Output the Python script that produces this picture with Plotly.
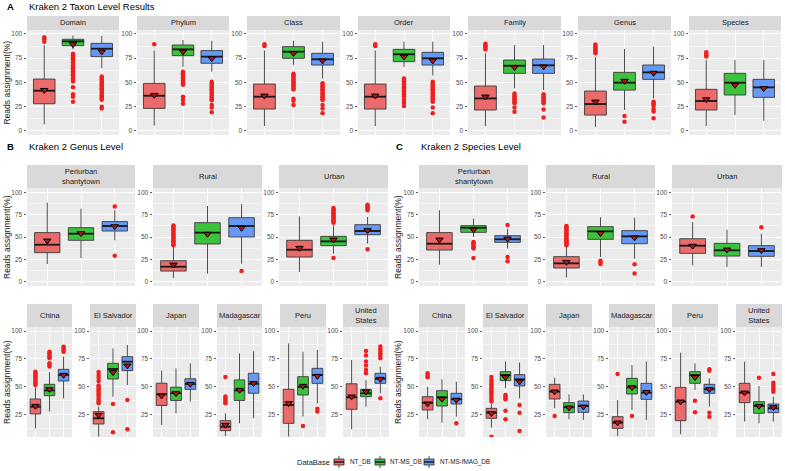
import plotly.graph_objects as go

W, H = 785, 471
DBS = ["NT_DB", "NT-MS_DB", "NT-MS-fMAG_DB"]
FILLS = ["#EB6A6A", "#3CC23C", "#6699F5"]

# ---------------- Section A: taxon levels ----------------
A_panels = ["Domain", "Phylum", "Class", "Order", "Family", "Genus", "Species"]
A_q1 = [[27.9, 87.9, 76.6], [23.1, 77.6, 69.7], [22.4, 74.8, 67.9], [22.4, 71.4, 67.9],
        [21.4, 59.3, 59.3], [16.2, 42.0, 53.1], [21.4, 36.9, 34.5]]
A_med = [[41.4, 92.4, 84.8], [36.2, 84.1, 76.6], [35.2, 81.7, 73.8], [35.2, 79.0, 74.8],
         [33.4, 67.2, 67.6], [27.6, 49.7, 60.3], [30.7, 49.7, 44.8]]
A_q3 = [[53.4, 94.5, 90.3], [49.0, 88.6, 82.8], [48.3, 86.9, 80.0], [48.3, 84.1, 81.0],
        [46.2, 73.1, 74.1], [41.0, 60.3, 67.9], [42.8, 59.3, 53.1]]
A_lo = [[6.6, 84.0, 64.5], [5.2, 66.0, 61.0], [4.8, 68.0, 54.0], [4.8, 66.0, 57.0],
        [4.8, 43.8, 42.0], [4.1, 21.4, 33.4], [4.8, 16.2, 10.3]]
A_hi = [[88.6, 98.6, 98.0], [83.0, 93.8, 93.0], [83.0, 93.0, 92.0], [83.0, 92.0, 92.0],
        [80.0, 88.6, 88.6], [76.5, 84.5, 86.9], [73.0, 73.0, 73.0]]
A_mean = [[42.0, 89.3, 81.7], [36.9, 81.7, 74.8], [36.2, 80.0, 72.4], [36.2, 76.5, 72.4],
          [35.2, 65.5, 66.2], [30.0, 51.4, 59.7], [32.4, 47.2, 43.8]]
A_out = [
    [[92.0, 94.5, 96.5],
     [79.5, 78.0, 76.5, 75.0, 73.6, 72.0, 70.5, 69.0, 67.5, 66.0, 64.6, 63.0, 61.5, 60.0,
      58.5, 57.0, 55.6, 54.0, 52.5, 51.0, 45.0, 37.6, 35.0, 30.0],
     [56.0, 54.5, 53.0, 51.5, 50.0, 48.6, 47.0, 45.5, 44.0, 42.5, 41.0, 39.5, 38.0, 36.5,
      35.0, 33.5, 32.0, 24.8, 23.0]],
    [[89.3],
     [61.0, 59.5, 58.0, 56.5, 55.0, 53.6, 52.0, 50.5, 49.0, 47.5, 35.0, 31.7, 28.0],
     [50.7, 49.0, 47.5, 46.0, 44.5, 43.0, 41.5, 40.0, 38.5, 37.0, 35.5, 34.0, 32.5, 31.5,
      26.6, 24.0, 19.0]],
    [[87.5, 89.5],
     [59.0, 57.5, 56.0, 54.5, 53.0, 51.5, 50.0, 48.5, 47.0, 45.5, 44.0, 42.5, 33.0, 31.0, 26.6],
     [49.0, 47.5, 46.0, 44.5, 43.0, 41.5, 40.0, 38.5, 37.0, 35.5, 34.0, 32.5, 31.7, 26.6,
      23.0, 18.0]],
    [[87.5, 89.5],
     [54.0, 52.5, 51.0, 49.5, 48.0, 46.5, 45.0, 43.5, 42.0, 40.5, 39.0, 37.5, 36.0, 35.0,
      31.7, 29.0, 25.5],
     [50.7, 49.0, 47.5, 46.0, 44.5, 43.0, 41.5, 40.0, 38.5, 37.0, 35.5, 34.0, 32.5, 31.0,
      30.0, 24.0, 18.0]],
    [[84.0, 85.5, 87.0, 88.5, 90.0],
     [38.6, 37.0, 35.5, 34.0, 32.5, 31.0, 29.5, 28.3, 24.0, 19.7],
     [37.6, 36.0, 34.5, 33.0, 31.5, 30.0, 28.3, 22.0, 13.8]],
    [[80.0, 81.5, 83.0, 84.5, 86.0, 87.5, 89.0],
     [15.2, 9.3],
     [30.0, 28.5, 27.0, 25.5, 22.0, 20.0, 12.8]],
    [[76.6, 78.0, 79.5, 81.0], [], []],
]

# ---------------- Section B: genus level ----------------
B_site_panels = ["Periurban<br>shantytown", "Rural", "Urban"]
B_site_q1 = [[32.5, 46.3, 56.7], [11.9, 42.2, 50.0], [27.6, 40.3, 52.6]]
B_site_med = [[41.4, 53.7, 62.3], [16.8, 54.9, 62.3], [35.8, 45.1, 56.7]]
B_site_q3 = [[54.9, 60.4, 67.2], [23.5, 66.0, 71.6], [46.3, 50.7, 63.8]]
B_site_lo = [[19.8, 26.5, 46.3], [4.1, 9.0, 20.1], [10.8, 31.3, 42.5]]
B_site_hi = [[88.4, 81.7, 80.0], [38.8, 84.7, 86.6], [73.1, 63.0, 72.4]]
B_site_mean = [[45.9, 54.1, 61.9], [19.0, 53.4, 60.1], [37.7, 47.0, 57.5]]
B_site_out = [
    [[], [], [84.0, 29.1]],
    [[40.7, 42.0, 43.5, 45.0, 46.5, 48.0, 49.5, 51.0, 52.5, 54.0, 55.5, 57.0, 58.5, 60.0,
      61.5, 63.0], [], [11.9]],
    [[], [66.0, 67.5, 69.0, 70.5, 72.0, 73.5, 75.0, 76.5, 78.0, 79.5, 81.0, 82.5, 26.5],
     [80.0, 81.5, 83.0, 84.5, 86.0, 36.2]],
]

B_ctry_panels = ["China", "El Salvador", "Japan", "Madagascar", "Peru", "United<br>States"]
B_ctry_q1 = [[25.3, 41.8, 55.0], [16.3, 56.8, 64.3], [33.0, 37.5, 47.5],
             [10.3, 37.5, 44.0], [16.9, 42.4, 52.9], [29.5, 40.9, 52.9]]
B_ctry_med = [[31.9, 46.5, 60.4], [21.4, 65.8, 72.4], [43.0, 44.0, 52.3],
              [13.9, 46.5, 52.5], [33.4, 49.8, 60.4], [40.3, 43.9, 57.0]]
B_ctry_q3 = [[38.8, 52.0, 65.5], [27.4, 70.9, 76.9], [53.0, 49.5, 57.0],
             [19.3, 56.0, 62.0], [47.5, 58.9, 66.4], [52.5, 47.5, 61.9]]
B_ctry_lo = [[12.4, 27.4, 39.4], [4.9, 40.9, 51.4], [15.4, 26.0, 36.4],
             [5.5, 16.9, 21.4], [4.9, 22.9, 34.9], [11.5, 31.9, 43.9]]
B_ctry_hi = [[49.3, 63.0, 77.0], [31.9, 84.4, 87.4], [64.5, 66.4, 70.9],
             [25.9, 79.9, 81.9], [88.9, 81.4, 82.9], [73.9, 55.9, 68.0]]
B_ctry_mean = [[32.5, 47.5, 60.4], [24.4, 62.8, 68.8], [41.8, 43.9, 52.3],
               [15.4, 46.9, 52.9], [34.9, 50.5, 59.5], [40.9, 45.4, 56.8]]
B_ctry_out = [
    [[51.4, 53.0, 54.5, 56.0, 57.5, 59.0, 60.5, 62.0, 63.4],
     [68.0, 69.5, 71.0, 75.5, 77.0, 78.5, 80.0, 81.4],
     [81.4, 83.0, 84.5, 85.9]],
    [[34.9, 36.5, 38.0, 40.0, 42.0, 43.5, 45.0, 46.5, 48.0, 49.5, 51.0, 55.0, 58.0, 60.5, 63.0],
     [34.3, 8.8],
     [37.9, 11.5]],
    [[], [], []],
    [[35.0, 36.5, 38.0, 39.5, 41.0, 58.5], [], []],
    [[], [14.5], [30.0, 27.5]],
    [[], [62.0, 65.0, 69.0, 72.5, 78.0, 82.0], [75.5, 78.0, 80.0, 82.0, 84.0, 86.0, 39.5]],
]

# ---------------- Section C: species level ----------------
C_site_panels = ["Periurban<br>shantytown", "Rural", "Urban"]
C_site_q1 = [[35.4, 55.2, 44.0], [15.3, 47.4, 42.5], [31.7, 28.7, 28.4]]
C_site_med = [[42.5, 60.4, 47.4], [20.5, 56.3, 50.7], [40.3, 35.1, 34.3]]
C_site_q3 = [[54.9, 62.7, 51.5], [28.0, 61.6, 57.1], [48.1, 42.9, 40.3]]
C_site_lo = [[19.0, 50.0, 37.0], [4.5, 27.6, 25.7], [18.3, 16.4, 16.4]]
C_site_hi = [[79.9, 70.5, 59.3], [38.8, 72.0, 71.6], [66.8, 58.2, 53.7]]
C_site_mean = [[47.0, 58.2, 48.1], [22.0, 54.1, 49.3], [40.0, 35.8, 35.1]]
C_site_out = [
    [[], [44.4, 43.0, 41.5, 40.0, 38.5, 37.0, 26.5], [63.4, 27.6, 22.8]],
    [[40.7, 42.0, 43.5, 45.0, 46.5, 48.0, 49.5, 51.0, 52.5, 54.0, 55.5, 57.0, 58.5, 60.0,
      61.5, 62.3], [23.5, 21.5, 19.8], [19.4, 9.3]],
    [[72.8], [], [60.8]],
]

C_ctry_panels = ["China", "El Salvador", "Japan", "Madagascar", "Peru", "United<br>States"]
C_ctry_q1 = [[28.9, 32.5, 34.3], [21.4, 55.3, 50.5], [38.8, 26.5, 26.8],
             [12.4, 43.3, 38.5], [19.3, 52.9, 43.9], [35.5, 25.9, 26.5]]
C_ctry_med = [[35.5, 40.3, 38.5], [26.5, 60.4, 56.5], [45.4, 31.3, 32.5],
              [17.5, 49.3, 44.5], [36.4, 60.4, 47.5], [44.5, 32.5, 30.4]]
C_ctry_q3 = [[40.9, 46.3, 43.9], [30.4, 63.4, 60.7], [52.0, 35.5, 37.0],
             [22.9, 57.4, 52.9], [49.3, 63.4, 52.0], [52.9, 36.4, 34.3]]
C_ctry_lo = [[20.5, 17.5, 22.9], [13.0, 48.4, 39.4], [30.4, 20.5, 19.9],
             [5.5, 28.9, 19.9], [7.0, 46.9, 31.9], [18.4, 16.9, 18.4]]
C_ctry_hi = [[49.9, 56.5, 54.4], [34.3, 72.4, 71.8], [58.0, 43.0, 43.0],
             [37.9, 69.4, 72.4], [80.5, 70.9, 57.4], [72.4, 50.5, 40.9]]
C_ctry_mean = [[34.5, 38.8, 38.0], [25.9, 58.3, 54.4], [45.4, 31.0, 31.9],
               [17.5, 49.3, 45.0], [36.4, 58.3, 47.5], [44.5, 32.5, 31.3]]
C_ctry_out = [
    [[58.3, 60.0, 61.9], [], [16.9]],
    [[36.5, 38.0, 40.0, 42.0, 44.0, 45.5, 47.0, 48.5, 50.0, 52.0, 54.0, 56.0, 58.5, 4.9],
     [42.4, 41.0, 39.7, 38.5, 28.3, 20.5],
     [33.4, 26.5, 10.0]],
    [[23.5], [], []],
    [[61.3], [23.5], []],
    [[], [37.3, 26.8], [65.5, 64.3, 26.5, 22.9]],
    [[], [58.0], [61.3, 53.5, 51.5, 49.5, 47.5, 45.4]],
]

# ---------------- Layout geometry (pixels) ----------------
A_x = [(27, 119), (137, 229), (247, 340), (358, 450), (468, 561), (578, 671), (689, 781)]
SITE_B_x = [(27, 135), (153, 262), (279, 388)]
SITE_C_x = [(419, 528), (546, 655), (672, 782)]
CTRY_B_x = [(27, 72), (90, 136), (153, 199), (217, 262), (280, 326), (343, 389)]
CTRY_C_x = [(419, 465), (483, 528), (546, 592), (609, 655), (672, 718), (736, 782)]
LEG_KEY_x = [(334, 344), (375, 385), (424, 434)]
LEG_TXT_x = [349, 389, 439]

FONT = "Liberation Sans, Arial, sans-serif"
fig = go.Figure()
shapes, annotations = [], []
layout_axes = {}
counter = [0]
BOX_W = 0.75
LINE_C = "#3A3A3A"


def fx(x):
    return x / W


def fy(y):
    return 1 - y / H


def add_panel(label, q1, med, q3, lo, hi, mean, outl, xs, strip_top, top, bottom, yrange):
    counter[0] += 1
    i = counter[0]
    xa = "x" if i == 1 else f"x{i}"
    ya = "y" if i == 1 else f"y{i}"
    x0, x1 = xs
    layout_axes["xaxis" if i == 1 else f"xaxis{i}"] = dict(
        domain=[fx(x0), fx(x1)], range=[0.4, 3.6], anchor=ya, tickvals=[1, 2, 3],
        showticklabels=False, ticks="", showgrid=True, gridcolor="white", gridwidth=1,
        zeroline=False, showline=False, fixedrange=True, automargin=False)
    layout_axes["yaxis" if i == 1 else f"yaxis{i}"] = dict(
        domain=[fy(bottom), fy(top)], range=yrange, anchor=xa, tick0=0, dtick=25,
        ticks="outside", ticklen=2.5, tickwidth=0.8, tickcolor="#333333",
        tickfont=dict(size=6.5, color="#4D4D4D", family=FONT),
        showgrid=True, gridcolor="white", gridwidth=1, zeroline=False, showline=False,
        minor=dict(dtick=12.5, showgrid=True, gridcolor="white", gridwidth=0.5),
        fixedrange=True, automargin=False)
    shapes.append(dict(type="rect", xref="paper", yref="paper", x0=fx(x0), x1=fx(x1),
                       y0=fy(top), y1=fy(strip_top), fillcolor="#D9D9D9", line=dict(width=0),
                       layer="below"))
    annotations.append(dict(xref="paper", yref="paper", x=fx((x0 + x1) / 2),
                            y=fy((strip_top + top) / 2), text=label, showarrow=False,
                            font=dict(size=7.5, color="#1A1A1A", family=FONT),
                            xanchor="center", yanchor="middle"))
    med_x, med_y = [], []
    for k in range(3):
        pos = k + 1
        fig.add_trace(go.Box(
            x=[pos], q1=[q1[k]], median=[med[k]], q3=[q3[k]],
            lowerfence=[lo[k]], upperfence=[hi[k]], width=BOX_W,
            fillcolor=FILLS[k], line=dict(color=LINE_C, width=0.9),
            boxpoints=False, name=DBS[k], showlegend=False,
            whiskerwidth=0, xaxis=xa, yaxis=ya, hoverinfo="skip"))
        med_x += [pos - BOX_W / 2, pos + BOX_W / 2, None]
        med_y += [med[k], med[k], None]
    fig.add_trace(go.Scatter(x=med_x, y=med_y, mode="lines",
                             line=dict(color="#1A1A1A", width=1.8), showlegend=False,
                             xaxis=xa, yaxis=ya, hoverinfo="skip"))
    ox, oy = [], []
    for k in range(3):
        ox += [k + 1] * len(outl[k])
        oy += outl[k]
    if ox:
        fig.add_trace(go.Scatter(x=ox, y=oy, mode="markers",
                                 marker=dict(color="#F02020", size=4.5, line=dict(width=0)),
                                 showlegend=False, xaxis=xa, yaxis=ya, hoverinfo="skip"))
    fig.add_trace(go.Scatter(x=[1, 2, 3], y=mean, mode="markers",
                             marker=dict(symbol="triangle-down", size=6.5, color="#B01818",
                                         line=dict(color="black", width=1)),
                             showlegend=False, xaxis=xa, yaxis=ya, hoverinfo="skip"))


def ytitle(x, y):
    annotations.append(dict(xref="paper", yref="paper", x=fx(x), y=fy(y),
                            text="Reads assignment(%)", showarrow=False, textangle=-90,
                            font=dict(size=8.5, color="#1A1A1A", family=FONT),
                            xanchor="center", yanchor="middle"))


def heading(letter, lx, text, tx, y):
    annotations.append(dict(xref="paper", yref="paper", x=fx(lx), y=fy(y), text=f"<b>{letter}</b>",
                            showarrow=False, xanchor="left", yanchor="middle",
                            font=dict(size=9.5, color="black", family=FONT)))
    annotations.append(dict(xref="paper", yref="paper", x=fx(tx), y=fy(y), text=text,
                            showarrow=False, xanchor="left", yanchor="middle",
                            font=dict(size=9.5, color="black", family=FONT)))


for p in range(7):
    add_panel(A_panels[p], A_q1[p], A_med[p], A_q3[p], A_lo[p], A_hi[p], A_mean[p], A_out[p],
              A_x[p], 16, 30, 135, [-4.4, 104.1])
for p in range(3):
    add_panel(B_site_panels[p], B_site_q1[p], B_site_med[p], B_site_q3[p], B_site_lo[p],
              B_site_hi[p], B_site_mean[p], B_site_out[p], SITE_B_x[p], 165, 188, 286,
              [-4.8, 104.8])
for p in range(6):
    add_panel(B_ctry_panels[p], B_ctry_q1[p], B_ctry_med[p], B_ctry_q3[p], B_ctry_lo[p],
              B_ctry_hi[p], B_ctry_mean[p], B_ctry_out[p], CTRY_B_x[p], 304, 327, 437,
              [4.6, 103.6])
for p in range(3):
    add_panel(C_site_panels[p], C_site_q1[p], C_site_med[p], C_site_q3[p], C_site_lo[p],
              C_site_hi[p], C_site_mean[p], C_site_out[p], SITE_C_x[p], 165, 188, 286,
              [-4.8, 104.8])
for p in range(6):
    add_panel(C_ctry_panels[p], C_ctry_q1[p], C_ctry_med[p], C_ctry_q3[p], C_ctry_lo[p],
              C_ctry_hi[p], C_ctry_mean[p], C_ctry_out[p], CTRY_C_x[p], 304, 327, 437,
              [4.6, 103.6])

heading("A", 5, "Kraken 2 Taxon Level Results", 27, 7)
heading("B", 5, "Kraken 2 Genus Level", 27, 147)
heading("C", 394, "Kraken 2 Species Level", 419, 147)
ytitle(7, 82.5)
ytitle(7, 237)
ytitle(7, 382)
ytitle(398, 237)
ytitle(398, 382)

annotations.append(dict(xref="paper", yref="paper", x=fx(331), y=fy(462), text="DataBase",
                        showarrow=False, xanchor="right", yanchor="middle", borderpad=0,
                        font=dict(size=7.5, color="#1A1A1A", family=FONT)))
for k in range(3):
    a, b = LEG_KEY_x[k]
    c = (a + b) / 2
    shapes.append(dict(type="line", xref="paper", yref="paper", x0=fx(c), x1=fx(c),
                       y0=fy(456), y1=fy(468), line=dict(color=LINE_C, width=0.9)))
    shapes.append(dict(type="rect", xref="paper", yref="paper", x0=fx(a), x1=fx(b),
                       y0=fy(459), y1=fy(465), fillcolor=FILLS[k],
                       line=dict(color=LINE_C, width=0.9)))
    shapes.append(dict(type="line", xref="paper", yref="paper", x0=fx(a), x1=fx(b),
                       y0=fy(462), y1=fy(462), line=dict(color="#1A1A1A", width=1.5)))
    annotations.append(dict(xref="paper", yref="paper", x=fx(LEG_TXT_x[k]), y=fy(462),
                            text=DBS[k], showarrow=False, xanchor="left", yanchor="middle",
                            borderpad=0, font=dict(size=6.3, color="#1A1A1A", family=FONT)))

fig.update_layout(
    width=W, height=H, margin=dict(l=0, r=0, t=0, b=0),
    paper_bgcolor="white", plot_bgcolor="#EBEBEB",
    font=dict(family=FONT), showlegend=False,
    shapes=shapes, annotations=annotations,
    boxgap=0, boxgroupgap=0,
    **layout_axes,
)

fig.write_html("out.html", config={"displayModeBar": False, "staticPlot": True},
               post_script="document.body.style.margin='0';document.body.style.overflow='hidden';")
